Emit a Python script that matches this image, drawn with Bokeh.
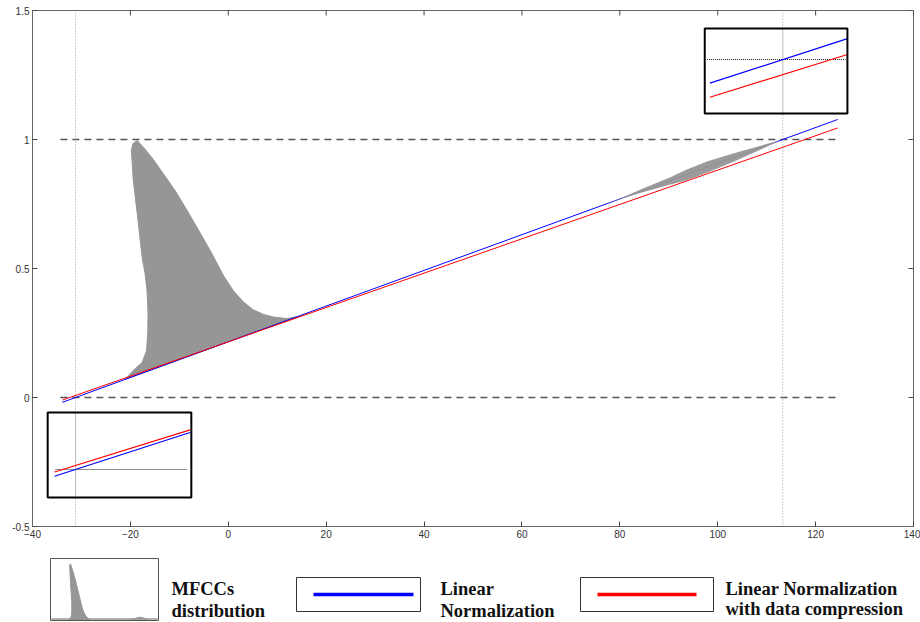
import numpy as np
from bokeh.plotting import figure
from bokeh.models import Range1d, FixedTicker
from bokeh.layouts import column
from bokeh.embed import file_html
from bokeh.resources import INLINE
from bokeh.core.properties import value

# ---------------- data ----------------
x_ticks = [-40, -20, 0, 20, 40, 60, 80, 100, 120, 140]
y_ticks = [-0.5, 0.0, 0.5, 1.0, 1.5]
y_tick_labels = ["-0.5", "0", "0.5", "1", "1.5"]

line_x = [-33.9, 124.5]
linear_y = [-0.0187, 1.0775]
compressed_y = [-0.010, 1.0446]

ref_levels = [0.0, 1.0]
ref_x = [-34.3, 124.5]
marker_x = [-31.2, 113.3]

# MFCC distribution outline (main lobe)
dist_x = [-21.0, -19.4, -17.6, -16.7, -16.45, -16.4, -16.6, -17.0, -17.6, -18.6, -19.4, -19.8, -19.5,
          -18.6, -17.3, -15.3, -13.3, -10.8, -8.4, -6.0, -3.7, -1.0, 1.0, 3.1, 5.1, 7.2, 9.2, 12.0, 14.1]
dist_y = [0.0706, 0.105, 0.136, 0.182, 0.250, 0.330, 0.415, 0.480, 0.543, 0.713, 0.841, 0.957, 0.984,
          0.996, 0.969, 0.922, 0.868, 0.800, 0.725, 0.646, 0.570, 0.473, 0.415, 0.370, 0.340, 0.322,
          0.312, 0.306, 0.313]
# MFCC distribution tail (upper band along the line)
tail_x = [76.9, 80.8, 84.7, 90.2, 93.7, 97.8, 103.1, 108.6, 112.7]
tail_top = [0.748, 0.777, 0.810, 0.853, 0.884, 0.915, 0.946, 0.975, 0.996]
tail_bottom = [0.748, 0.773, 0.796, 0.825, 0.842, 0.871, 0.913, 0.959, 0.996]

legend_labels = [["MFCCs", "distribution"],
                 ["Linear", "Normalization"],
                 ["Linear Normalization", "with data compression"]]

# ---------------- styles ----------------
GRAY = "#969696"
BLUE = "#0000ff"
RED = "#ff0000"
AX = "#666666"

X0, X1, Y0, Y1 = -40, 140, -0.5, 1.5
BL, BR, BT, BB = 32, 7, 10, 18
p = figure(width=920, height=544, x_range=Range1d(X0, X1), y_range=Range1d(Y0, Y1),
           output_backend="svg", toolbar_location=None,
           min_border_left=BL, min_border_right=BR, min_border_top=BT, min_border_bottom=BB)
p.background_fill_color = "white"
p.border_fill_color = "white"
p.xgrid.visible = False
p.ygrid.visible = False
p.outline_line_color = AX
p.outline_line_width = 1

for ax in (p.xaxis[0], p.yaxis[0]):
    ax.major_tick_in = 5
    ax.major_tick_out = 0
    ax.minor_tick_line_color = None
    ax.major_tick_line_color = "#444444"
    ax.axis_line_color = AX
    ax.major_label_text_font = "Liberation Sans"
    ax.major_label_text_font_size = "10px"
    ax.major_label_text_color = "#333333"
    ax.major_label_standoff = 3
p.xaxis.ticker = FixedTicker(ticks=x_ticks)
p.yaxis.ticker = FixedTicker(ticks=y_ticks)
p.yaxis.major_label_overrides = {t: l for t, l in zip(y_ticks, y_tick_labels)}

# ticks on the top and right edges of the box (5 px long, inward)
frame_w, frame_h = 920 - BL - BR, 544 - BT - BB
tx_len = 5 * (X1 - X0) / frame_w
ty_len = 5 * (Y1 - Y0) / frame_h
p.segment(x0=x_ticks, y0=[Y1] * len(x_ticks), x1=x_ticks, y1=[Y1 - ty_len] * len(x_ticks),
          line_color="#444444", line_width=1)
p.segment(x0=[X1] * len(y_ticks), y0=y_ticks, x1=[X1 - tx_len] * len(y_ticks), y1=y_ticks,
          line_color="#444444", line_width=1)

# reference lines
for lv in ref_levels:
    p.line(ref_x, [lv, lv], line_color="#555555", line_width=1.5, line_dash="7 5")
for mx_ in marker_x:
    p.line([mx_, mx_], [Y0, Y1], line_color="#9a9a9a", line_width=1, line_dash="1 2")

# distribution main lobe
p.patch(dist_x, dist_y, fill_color=GRAY, line_color=GRAY, line_width=1)

# normalization lines
p.line(line_x, linear_y, line_color=BLUE, line_width=1)
p.line(line_x, compressed_y, line_color=RED, line_width=1)

# tail band on top
p.varea(x=tail_x, y1=tail_bottom, y2=tail_top, fill_color=GRAY, fill_alpha=0.95)

# ---------------- insets (magnified views around crossings) ----------------
MX, MY = 2.2, 1.95
insets = [
    dict(cx=marker_x[0], cy=ref_levels[0], cyi=-0.279, box=(-36.9, -7.55, -0.388, -0.058),
         lr=(-35.5, -7.8), hr=(-35.3, -8.4)),
    dict(cx=marker_x[1], cy=ref_levels[1], cyi=1.310, box=(97.35, 126.5, 1.101, 1.430),
         lr=(98.4, 126.5), hr=(97.8, 126.1)),
]
for ins in insets:
    l, r, b, t = ins["box"]
    p.quad(left=[l], right=[r], bottom=[b], top=[t], fill_color="white", line_color=None)
    p.line([ins["cx"], ins["cx"]], [b, t], line_color="#bbbbbb", line_width=1)
    p.line(list(ins["hr"]), [ins["cyi"], ins["cyi"]], line_color="#222222", line_width=1.2,
           line_dash="1 1")
    xi = np.array(ins["lr"])
    xo = ins["cx"] + (xi - ins["cx"]) / MX
    for ys, col in ((compressed_y, RED), (linear_y, BLUE)):
        yo = np.interp(xo, line_x, ys)
        yi = ins["cyi"] + (yo - ins["cy"]) * MY
        p.line(list(xi), list(yi), line_color=col, line_width=1.2)
    p.quad(left=[l], right=[r], bottom=[b], top=[t], fill_color=None,
           line_color="black", line_width=2)

# ---------------- legend strip ----------------
# (column aligns frames, so this frame spans page x 32..913; ranges are in page pixels)
lg = figure(width=920, height=78, x_range=Range1d(BL, 920 - BR), y_range=Range1d(622, 544),
            output_backend="svg", toolbar_location=None, x_axis_location=None,
            y_axis_location=None, min_border=0)
lg.xgrid.visible = False
lg.ygrid.visible = False
lg.outline_line_color = None
lg.background_fill_color = "white"
lg.border_fill_color = "white"

# box 1 : mini distribution
bl, br, bt, bb = 50, 158, 558, 620
lg.quad(left=[bl], right=[br], top=[bt], bottom=[bb], fill_color="white",
        line_color="#555555", line_width=1)
x_lo, x_hi = -48.6, 125.0
dx = np.array(dist_x)
dh = np.array(dist_y) - np.interp(dx, line_x, linear_y)
mxs = bl + 2 + (dx - x_lo) / (x_hi - x_lo) * (br - bl - 4)
mys = (bb - 1) - np.clip(dh, 0, None) / 0.95 * 58
lg.patch(list(mxs), list(mys), fill_color=GRAY, line_color=GRAY)
tx = np.array(tail_x)
th = np.array(tail_top) - np.interp(tx, line_x, linear_y)
txs = bl + 2 + (tx - x_lo) / (x_hi - x_lo) * (br - bl - 4)
tys = (bb - 1) - th / 0.95 * 58 * 2.0
lg.varea(x=list(txs), y1=[bb - 1] * len(txs), y2=list(tys), fill_color=GRAY)
lg.line([bl + 1, br - 1], [bb - 1.5, bb - 1.5], line_color=GRAY, line_width=1.5)

# box 2 and 3 : line samples
for (l, r, x0, x1, col) in ((296, 420, 313, 413, BLUE), (580, 713, 597, 696, RED)):
    lg.quad(left=[l], right=[r], top=[577], bottom=[611], fill_color="white",
            line_color="#333333", line_width=1)
    lg.line([x0, x1], [594, 594], line_color=col, line_width=3.5)

txt_x = [171, 171, 440, 440, 725, 725]
txt_y = [588, 610, 588, 610, 588, 608]
txt = [s for pair in legend_labels for s in pair]
lg.text(x=txt_x, y=txt_y, text=txt, text_font=value("Liberation Serif"),
        text_font_style="bold", text_font_size="18.5px", text_color="#111111",
        text_baseline="alphabetic", text_align="left")

layout = column(p, lg, spacing=0)
open("out.html", "w").write(file_html(layout, INLINE))
